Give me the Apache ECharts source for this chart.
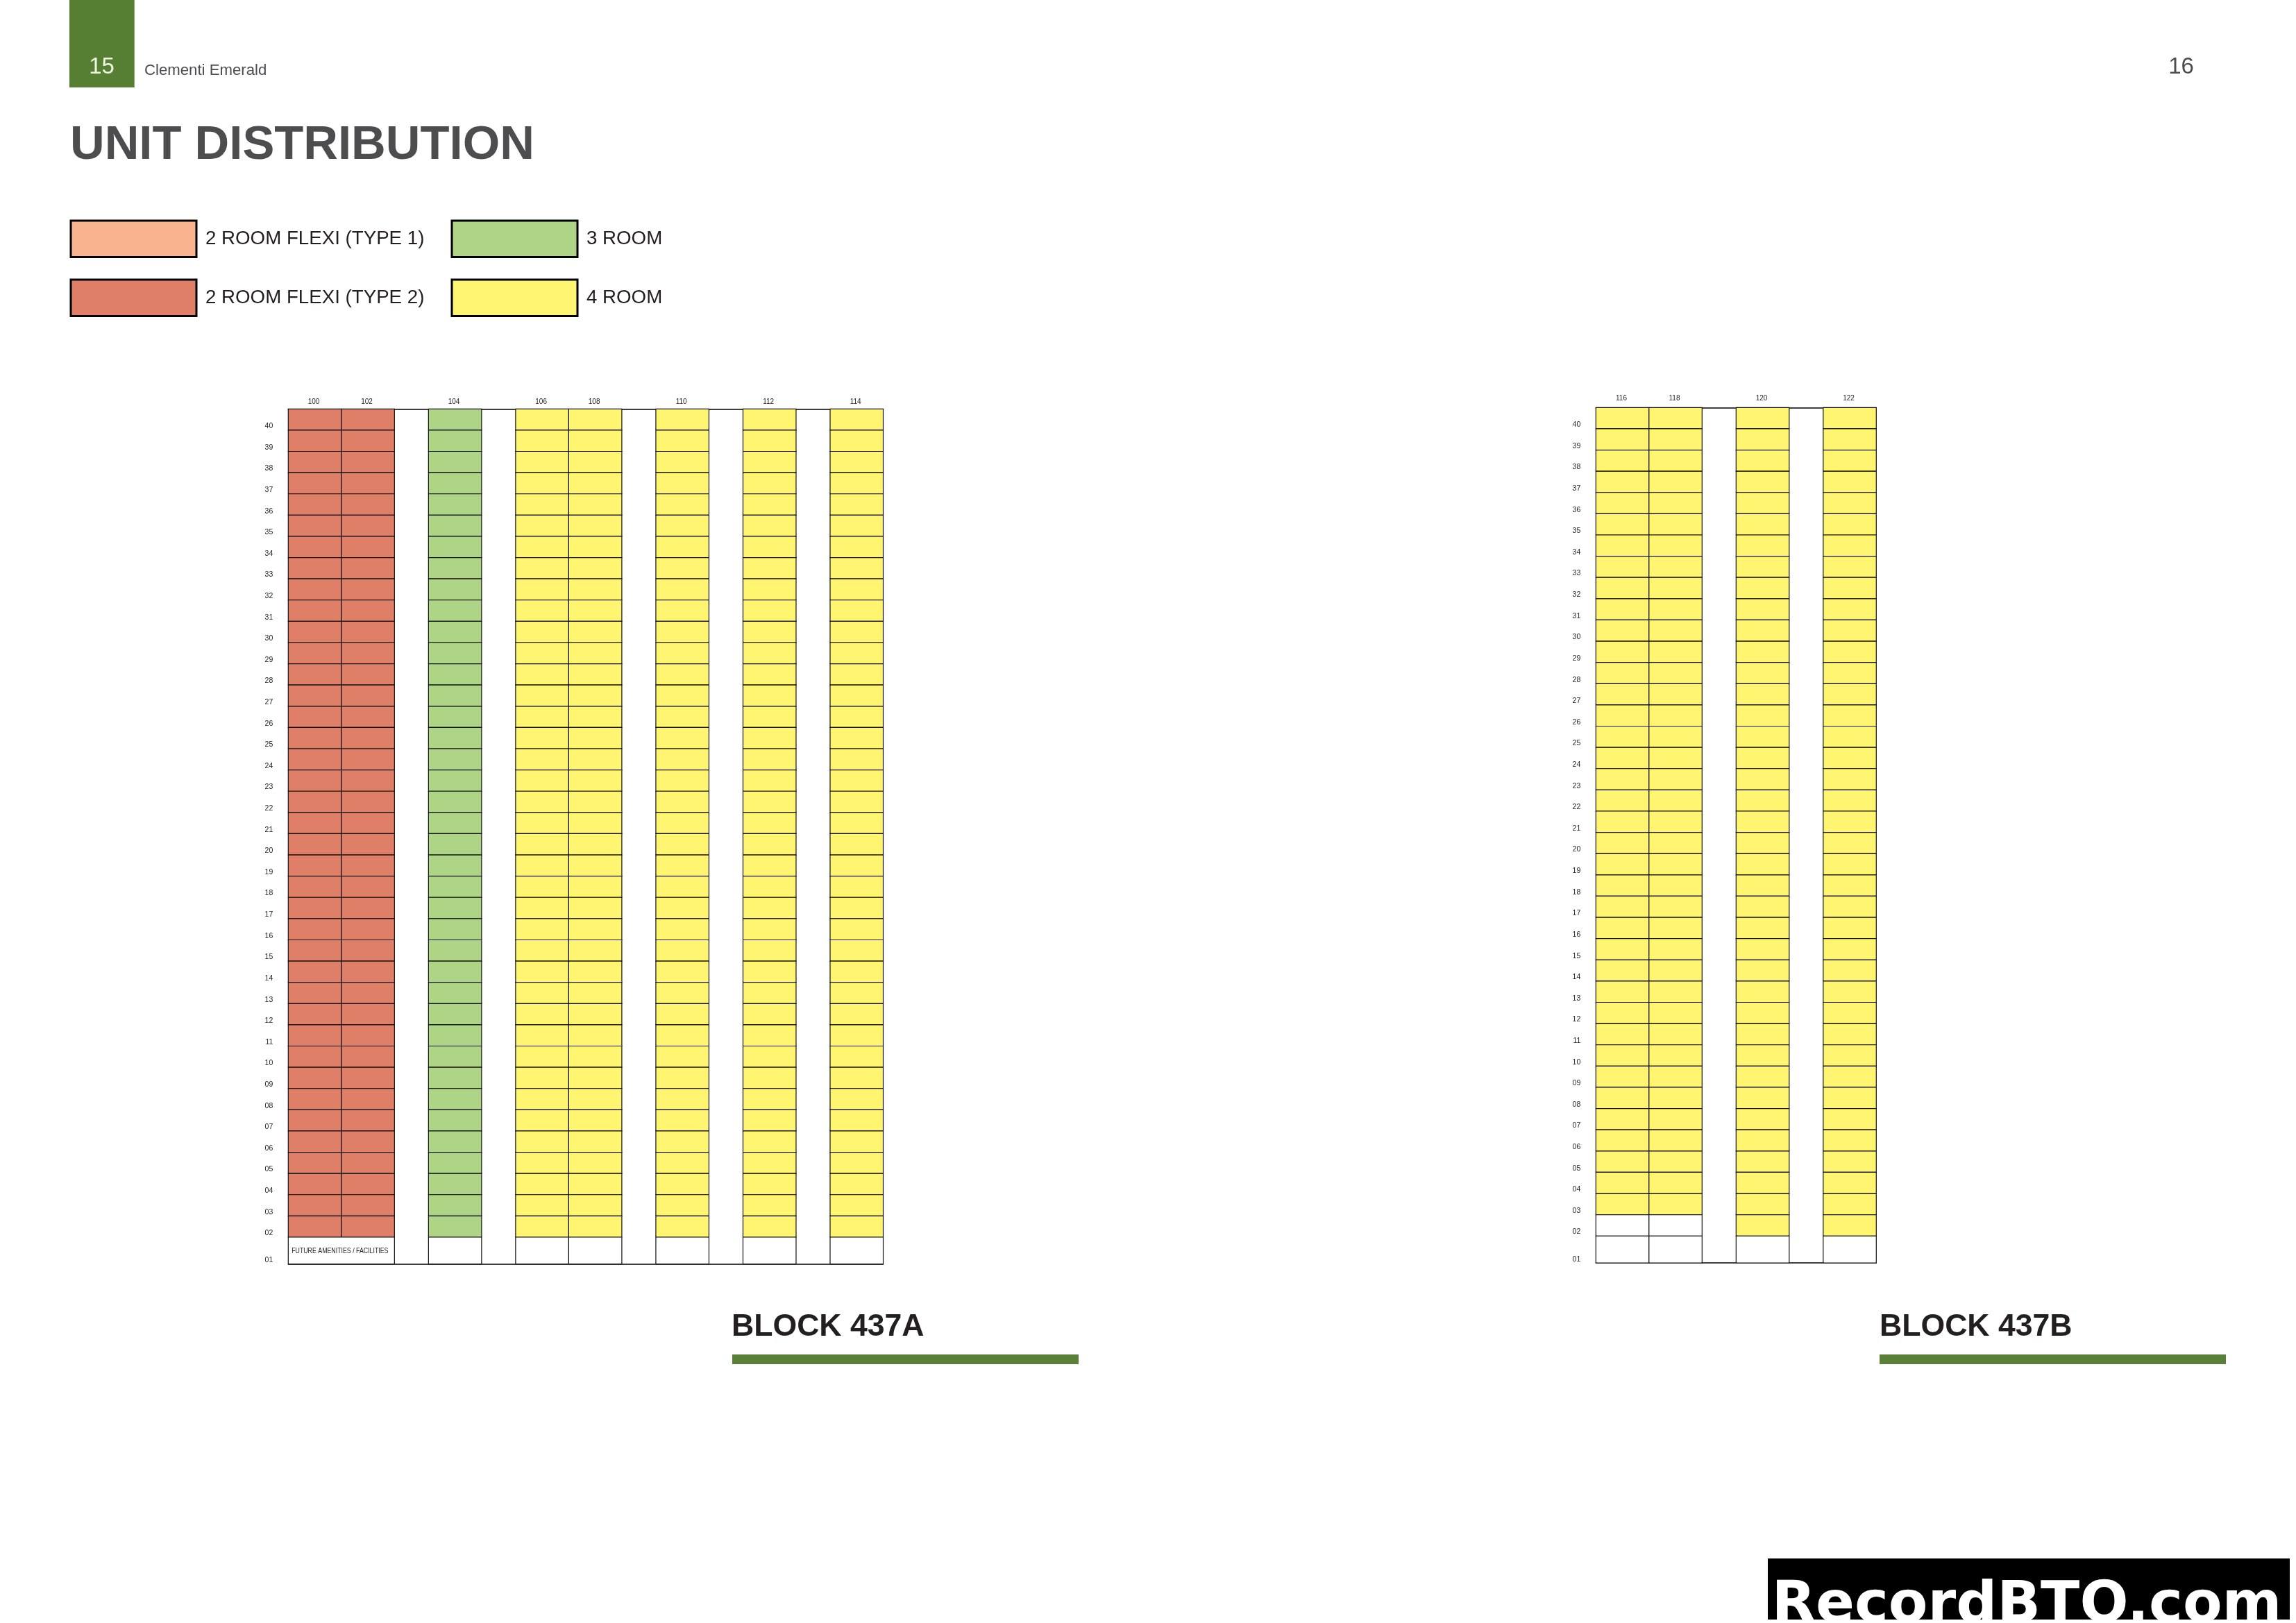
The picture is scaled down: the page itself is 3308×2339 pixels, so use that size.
<!DOCTYPE html>
<html lang="en">
<head>
    <meta charset="UTF-8">
    <title>Clementi Emerald - Unit Distribution</title>
    <script src="https://cdn.jsdelivr.net/npm/echarts@6/dist/echarts.min.js"></script>
    <style>
        html, body { margin: 0; padding: 0; background: #fff; }
    </style>
</head>
<body>
    <div id="main" style="width: 3308px; height: 2339px;"></div>
    <script type="text/javascript">
        // Storeys, top to bottom, as labelled on the left of each block
        const floorLabels = ['40', '39', '38', '37', '36', '35', '34', '33', '32', '31',
            '30', '29', '28', '27', '26', '25', '24', '23', '22', '21',
            '20', '19', '18', '17', '16', '15', '14', '13', '12', '11',
            '10', '09', '08', '07', '06', '05', '04', '03', '02', '01'];

        const unitNames = {
            flexi1: '2 ROOM FLEXI (TYPE 1)',
            flexi2: '2 ROOM FLEXI (TYPE 2)',
            room3: '3 ROOM',
            room4: '4 ROOM',
            blank: 'NO UNIT'
        };
        const unitColors = {
            flexi1: '#f9b48f',
            flexi2: '#e07f68',
            room3: '#aed586',
            room4: '#fff570',
            blank: '#ffffff'
        };

        // Block 437A
        const blockAStacks = ['100', '102', '104', '106', '108', '110', '112', '114'];
        const blockAGroups = [0, 0, 1, 2, 2, 3, 4, 5];
        const blockATypes = ['flexi2', 'flexi2', 'room3', 'room4', 'room4', 'room4', 'room4', 'room4'];
        const blockALowest = [2, 2, 2, 2, 2, 2, 2, 2];

        // Block 437B
        const blockBStacks = ['116', '118', '120', '122'];
        const blockBGroups = [0, 0, 1, 2];
        const blockBTypes = ['room4', 'room4', 'room4', 'room4'];
        const blockBLowest = [3, 3, 2, 2];

        const FUTURE_LABEL = 'FUTURE AMENITIES / FACILITIES';

        // Gap between stack groups and the taller ground storey, in cell units
        const GAP = 0.6405;
        const GROUND = 1.265;
        const LINE = '#111111';
        const LINE_WIDTH = 1.2;
        const FONT = '"Liberation Sans", Arial, sans-serif';

        function floorBase(floor) {
            return floor === 1 ? 0 : GROUND + floor - 2;
        }
        function floorTop(floor) {
            return floor === 1 ? GROUND : GROUND + floor - 1;
        }

        function stackPositions(groups) {
            return groups.map((group, i) => i + group * GAP);
        }

        // One list of cells per unit type: [x, floor, span]
        function buildCells(stacks, groups, types, lowest, mergeGround) {
            const positions = stackPositions(groups);
            const cells = { flexi1: [], flexi2: [], room3: [], room4: [], blank: [] };
            stacks.forEach((stack, i) => {
                floorLabels.forEach((label) => {
                    const floor = parseInt(label, 10);
                    if (mergeGround && floor === 1 && i < 2) return;
                    const type = floor >= lowest[i] ? types[i] : 'blank';
                    cells[type].push([positions[i], floor, 1]);
                });
            });
            if (mergeGround) cells.blank.push([positions[0], 1, 2]);
            return cells;
        }

        function renderCell(params, api) {
            const x = api.value(0);
            const floor = api.value(1);
            const span = api.value(2);
            const a = api.coord([x, floorTop(floor)]);
            const b = api.coord([x + span, floorBase(floor)]);
            const children = [{
                type: 'rect',
                shape: { x: a[0], y: a[1], width: b[0] - a[0], height: b[1] - a[1] },
                style: { fill: api.visual('color'), stroke: LINE, lineWidth: LINE_WIDTH }
            }];
            if (span === 2) {
                children.push({
                    type: 'text',
                    x: (a[0] + b[0]) / 2 - 2,
                    y: (a[1] + b[1]) / 2 + 1,
                    scaleY: 1.3,
                    style: {
                        text: FUTURE_LABEL,
                        font: '8.8px ' + FONT,
                        fill: '#222222',
                        align: 'center',
                        verticalAlign: 'middle'
                    }
                });
            }
            return { type: 'group', children: children };
        }

        function cellSeries(cells, type, gridIndex) {
            return {
                name: unitNames[type],
                type: 'custom',
                coordinateSystem: 'cartesian2d',
                xAxisIndex: gridIndex * 2,
                yAxisIndex: gridIndex,
                clip: false,
                silent: true,
                itemStyle: { color: unitColors[type] },
                encode: { x: 0, y: 1 },
                renderItem: renderCell,
                data: cells[type]
            };
        }

        function xAxes(stacks, groups, gridIndex, labelMargin) {
            const positions = stackPositions(groups);
            const max = positions[positions.length - 1] + 1;
            const centres = positions.map((p) => p + 0.48);
            const lineStyle = { color: '#000000', width: 1.5 };
            return [{
                type: 'value',
                gridIndex: gridIndex,
                position: 'top',
                min: 0,
                max: max,
                splitLine: { show: false },
                axisLine: { show: true, onZero: false, lineStyle: lineStyle },
                axisTick: { show: false },
                axisLabel: {
                    customValues: centres,
                    margin: labelMargin,
                    fontFamily: FONT,
                    fontSize: 10,
                    color: '#222222',
                    formatter: (value) => stacks[centres.indexOf(value)] || ''
                }
            }, {
                type: 'value',
                gridIndex: gridIndex,
                position: 'bottom',
                min: 0,
                max: max,
                splitLine: { show: false },
                axisLine: { show: true, onZero: false, lineStyle: lineStyle },
                axisTick: { show: false },
                axisLabel: { show: false }
            }];
        }

        // Floor labels sit low in their row, not on its centre
        const floorTicks = floorLabels.map((label) => {
            const floor = parseInt(label, 10);
            return floor === 1 ? 0.17 : floor - 0.55;
        }).reverse();
        const floorTickLabels = floorLabels.slice().reverse();

        function yAxis(gridIndex) {
            return {
                type: 'value',
                gridIndex: gridIndex,
                min: 0,
                max: GROUND + 39,
                splitLine: { show: false },
                axisLine: { show: false },
                axisTick: { show: false },
                axisLabel: {
                    customValues: floorTicks,
                    margin: 22,
                    fontFamily: FONT,
                    fontSize: 10.5,
                    color: '#222222',
                    formatter: (value) => floorTickLabels[floorTicks.indexOf(value)] || ''
                }
            };
        }

        function pageText(text, x, y, size, weight, fill, align) {
            return {
                type: 'text',
                silent: true,
                style: {
                    text: text,
                    x: x,
                    y: y,
                    font: weight + ' ' + size + 'px ' + FONT,
                    fill: fill,
                    align: align || 'left',
                    verticalAlign: 'middle'
                }
            };
        }

        function pageRect(x, y, width, height, fill) {
            return { type: 'rect', silent: true, shape: { x: x, y: y, width: width, height: height }, style: { fill: fill } };
        }

        function legendColumn(left, names) {
            return {
                left: left,
                top: 316.5,
                padding: 0,
                orient: 'vertical',
                icon: 'rect',
                itemWidth: 181,
                itemHeight: 52.5,
                itemGap: 29.5,
                selectedMode: false,
                itemStyle: { borderColor: '#000000', borderWidth: 3 },
                textStyle: {
                    fontFamily: FONT,
                    fontSize: 27.7,
                    color: '#231f20',
                    padding: [4, 0, 0, 8]
                },
                data: names
            };
        }

        const cellsA = buildCells(blockAStacks, blockAGroups, blockATypes, blockALowest, true);
        const cellsB = buildCells(blockBStacks, blockBGroups, blockBTypes, blockBLowest, false);
        const typeOrder = ['flexi1', 'flexi2', 'room3', 'room4', 'blank'];

        let myChart = echarts.init(document.getElementById('main'));

        let options = {
            animation: false,
            backgroundColor: '#ffffff',
            legend: [
                legendColumn(100.5, [unitNames.flexi1, unitNames.flexi2]),
                legendColumn(649.5, [unitNames.room3, unitNames.room4])
            ],
            grid: [
                { left: 415.3, top: 589.3, width: 857.2, height: 1232.4 },
                { left: 2299.3, top: 587.3, width: 404, height: 1232.7 }
            ],
            xAxis: xAxes(blockAStacks, blockAGroups, 0, 5).concat(xAxes(blockBStacks, blockBGroups, 1, 8)),
            yAxis: [yAxis(0), yAxis(1)],
            series: typeOrder.map((type) => cellSeries(cellsA, type, 0))
                .concat(typeOrder.map((type) => cellSeries(cellsB, type, 1))),
            graphic: [
                pageRect(100, 0, 93.7, 126, '#567f33'),
                pageText('15', 146.5, 96.5, 33, 'normal', '#eef6df', 'center'),
                pageText('Clementi Emerald', 208, 102, 22.2, 'normal', '#4d4d4f'),
                pageText('16', 3142.5, 96.7, 33, 'normal', '#4d4d4f', 'center'),
                pageText('UNIT DISTRIBUTION', 101, 210, 68.8, 'bold', '#4d4d4f'),
                pageText('BLOCK 437A', 1054, 1913, 44.6, 'bold', '#231f20'),
                pageRect(1055, 1952, 499, 14, '#5a7f38'),
                pageText('BLOCK 437B', 2708, 1913, 44.6, 'bold', '#231f20'),
                pageRect(2708, 1952, 499, 14, '#5a7f38'),
                pageRect(2547, 2246, 752, 88, '#000000'),
                {
                    type: 'text',
                    silent: true,
                    style: {
                        text: 'RecordBTO.com',
                        x: 2920,
                        y: 2316,
                        font: 'bold 82.5px "DejaVu Sans", sans-serif',
                        fill: '#ffffff',
                        align: 'center',
                        verticalAlign: 'middle'
                    }
                }
            ]
        };

        myChart.setOption(options);
    </script>
</body>
</html>
